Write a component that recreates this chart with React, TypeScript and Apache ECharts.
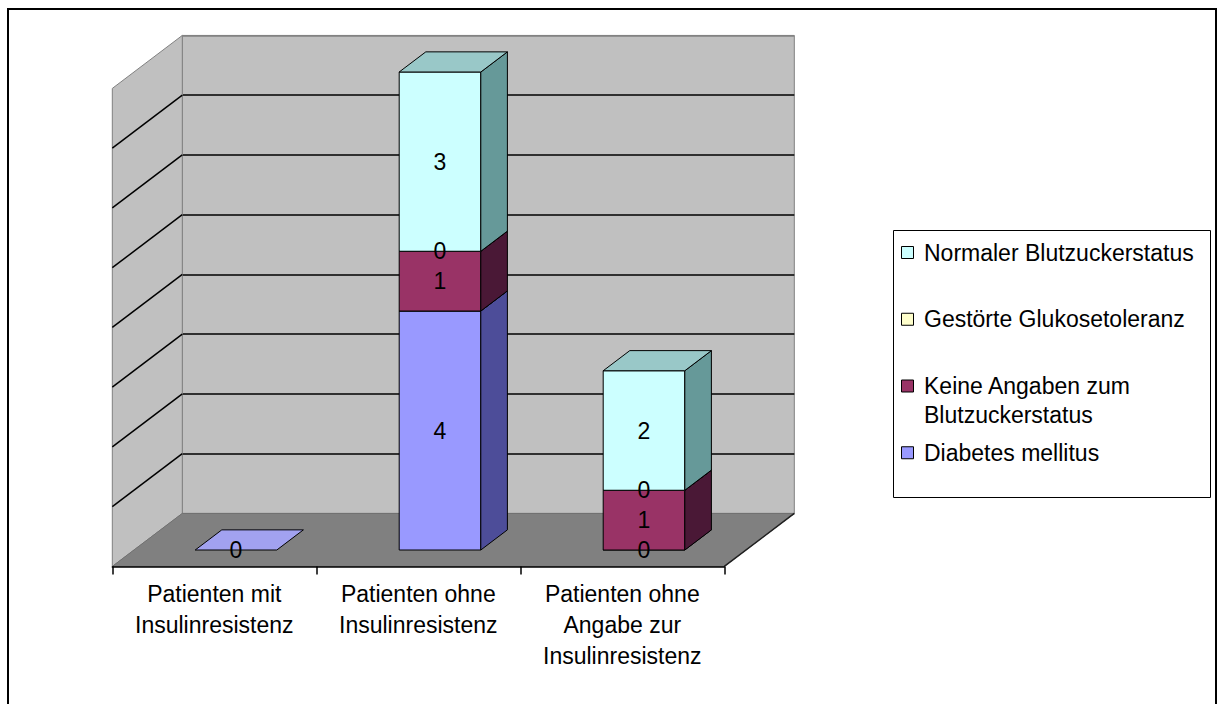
import { useEffect, useRef } from "react";
import * as echarts from "echarts";

// Categories along the floor, bottom-to-top stack order of the series
const categories = [
  "Patienten mit\nInsulinresistenz",
  "Patienten ohne\nInsulinresistenz",
  "Patienten ohne\nAngabe zur\nInsulinresistenz",
];
const seriesNames = [
  "Diabetes mellitus",
  "Keine Angaben zum Blutzuckerstatus",
  "Gestörte Glukosetoleranz",
  "Normaler Blutzuckerstatus",
];
const diabetesMellitus = [0, 4, 0];
const keineAngaben = [0, 1, 1];
const gestoerteGlukosetoleranz = [0, 0, 0];
const normalerBlutzucker = [0, 3, 2];
const stackValues = [diabetesMellitus, keineAngaben, gestoerteGlukosetoleranz, normalerBlutzucker];

const yMax = 8;
const yStep = 1;

// Face colours per series: front, right side, top
const frontColors = ["#9999FF", "#993366", "#FFFFCC", "#CCFFFF"];
const sideColors = ["#4D4D99", "#4A1836", "#999966", "#669999"];
const topColors = ["#A2A2F0", "#7A2952", "#CCCC99", "#99C8C8"];

const FONT = '"Liberation Sans", Arial, sans-serif';
const FONT_SIZE = 23;

// Oblique projection: plane of the bar fronts, and the depth vector front -> back
const PLANE = { left: 134, top: 72, width: 612, height: 478 };
const DEPTH_X = 70;
const DEPTH_Y = -53;
const BAR_FRONT = 0.31; // depth fraction where the bar fronts sit
const BAR_BACK = 0.69;
const BAR_RATIO = 0.4;

const LEGEND_BOX = { x: 893, y: 230, width: 317, height: 267 };

function buildOption() {
  // cumulative bases of the stack
  const bases = stackValues.map((_, i) =>
    categories.map((__, c) => {
      let s = 0;
      for (let j = 0; j < i; j++) s += stackValues[j][c];
      return s;
    })
  );
  // a zero segment repeats the label of a lower zero segment at the same height: draw it once
  const showLabel = stackValues.map((vals, i) =>
    vals.map((v, c) => {
      if (v !== 0) return 1;
      for (let j = 0; j < i; j++) {
        if (stackValues[j][c] === 0 && bases[j][c] === bases[i][c]) return 0;
      }
      return 1;
    })
  );

  const fdx = -BAR_FRONT * DEPTH_X;
  const fdy = -BAR_FRONT * DEPTH_Y;
  const bdx = (1 - BAR_FRONT) * DEPTH_X;
  const bdy = (1 - BAR_FRONT) * DEPTH_Y;

  const walls = {
    type: "custom",
    name: "walls",
    xAxisIndex: 0,
    yAxisIndex: 0,
    z: 1,
    silent: true,
    clip: false,
    data: [[0, 0]],
    renderItem: (_params: any, api: any) => {
      const bw = api.size([1, 0])[0];
      const [x0, yBase] = api.coord([0, 0]);
      const xl = x0 - bw / 2;
      const xr = api.coord([categories.length - 1, 0])[0] + bw / 2;
      const yTop = api.coord([0, yMax])[1];
      const children: any[] = [];
      children.push({
        type: "polygon",
        shape: {
          points: [
            [xl + fdx, yBase + fdy],
            [xl + fdx, yTop + fdy],
            [xl + bdx, yTop + bdy],
            [xl + bdx, yBase + bdy],
          ],
        },
        style: { fill: "#C0C0C0", stroke: "#808080", lineWidth: 1 },
      });
      children.push({
        type: "polygon",
        shape: {
          points: [
            [xl + fdx, yBase + fdy],
            [xr + fdx, yBase + fdy],
            [xr + bdx, yBase + bdy],
            [xl + bdx, yBase + bdy],
          ],
        },
        style: { fill: "#808080", stroke: "#707070", lineWidth: 1 },
      });
      children.push({
        type: "line",
        shape: { x1: xr + fdx, y1: yBase + fdy, x2: xr + bdx, y2: yBase + bdy },
        style: { stroke: "#202020", lineWidth: 1.5 },
      });
      for (let v = yStep; v < yMax; v += yStep) {
        const y = api.coord([0, v])[1];
        children.push({
          type: "line",
          shape: { x1: xl + fdx, y1: y + fdy, x2: xl + bdx, y2: y + bdy },
          style: { stroke: "#000", lineWidth: 1.5 },
        });
      }
      return { type: "group", children };
    },
  };

  const barDx = (BAR_BACK - BAR_FRONT) * DEPTH_X;
  const barDy = (BAR_BACK - BAR_FRONT) * DEPTH_Y;

  const bars = stackValues.map((vals, i) => ({
    type: "custom",
    name: seriesNames[i],
    xAxisIndex: 0,
    yAxisIndex: 0,
    z: 4,
    clip: false,
    data: vals.map((v, c) => [c, v, bases[i][c], showLabel[i][c]]),
    renderItem: (_params: any, api: any) => {
      const c = api.value(0);
      const v = api.value(1);
      const b = api.value(2);
      const [cx, y0] = api.coord([c, b]);
      const y1 = api.coord([c, b + v])[1];
      const w = api.size([1, 0])[0] * BAR_RATIO;
      const xl = cx - w / 2;
      const xr = cx + w / 2;
      const children: any[] = [];
      if (v > 0) {
        children.push({
          type: "rect",
          shape: { x: xl, y: y1, width: w, height: y0 - y1 },
          style: { fill: frontColors[i], stroke: "#000", lineWidth: 1 },
        });
        children.push({
          type: "polygon",
          shape: {
            points: [
              [xr, y0],
              [xr + barDx, y0 + barDy],
              [xr + barDx, y1 + barDy],
              [xr, y1],
            ],
          },
          style: { fill: sideColors[i], stroke: "#000", lineWidth: 1 },
        });
      }
      if (v > 0 || i === 0) {
        children.push({
          type: "polygon",
          shape: {
            points: [
              [xl, y1],
              [xr, y1],
              [xr + barDx, y1 + barDy],
              [xl + barDx, y1 + barDy],
            ],
          },
          style: { fill: topColors[i], stroke: "#000", lineWidth: 1 },
        });
      }
      if (api.value(3)) {
        children.push({
          type: "text",
          x: cx,
          y: (y0 + y1) / 2,
          z2: 10,
          style: {
            text: String(v),
            fill: "#000",
            fontSize: FONT_SIZE,
            fontFamily: FONT,
            align: "center",
            verticalAlign: "middle",
          },
        });
      }
      return { type: "group", children };
    },
  }));

  // legend drawn as a framed box with one slot per series, top series first
  const slot = LEGEND_BOX.height / seriesNames.length;
  const legendChildren: any[] = [
    {
      type: "rect",
      shape: { x: LEGEND_BOX.x + 0.5, y: LEGEND_BOX.y + 0.5, width: LEGEND_BOX.width, height: LEGEND_BOX.height },
      style: { fill: "#fff", stroke: "#000", lineWidth: 1 },
    },
  ];
  const legendOrder = seriesNames.map((_, i) => seriesNames.length - 1 - i);
  legendOrder.forEach((si, k) => {
    const cy = LEGEND_BOX.y + k * slot + 22.5;
    legendChildren.push({
      type: "rect",
      shape: { x: LEGEND_BOX.x + 8.5, y: cy - 6, width: 12, height: 12 },
      style: { fill: frontColors[si], stroke: "#000", lineWidth: 1 },
    });
    legendChildren.push({
      type: "text",
      x: LEGEND_BOX.x + 31,
      y: cy - 14.5,
      style: {
        text: seriesNames[si],
        fill: "#000",
        fontSize: FONT_SIZE,
        fontFamily: FONT,
        lineHeight: 29,
        width: 280,
        overflow: "break",
        verticalAlign: "top",
        align: "left",
      },
    });
  });

  const splitColors = [];
  for (let v = 0; v <= yMax; v += yStep) splitColors.push(v === 0 || v === yMax ? "#808080" : "#000");

  return {
    animation: false,
    backgroundColor: "#fff",
    textStyle: { fontFamily: FONT },
    grid: [
      { left: PLANE.left, top: PLANE.top, width: PLANE.width, height: PLANE.height, show: false },
      { left: PLANE.left + fdx, top: PLANE.top + fdy, width: PLANE.width, height: PLANE.height, show: false },
      {
        left: PLANE.left + bdx,
        top: PLANE.top + bdy,
        width: PLANE.width,
        height: PLANE.height,
        show: true,
        backgroundColor: "#C0C0C0",
        borderColor: "#808080",
        borderWidth: 1,
      },
    ],
    xAxis: [
      { gridIndex: 0, type: "category", data: categories, show: false },
      {
        gridIndex: 1,
        type: "category",
        data: categories,
        z: 3,
        axisLine: { lineStyle: { color: "#000", width: 1.5 } },
        axisTick: { show: true, interval: 0, length: 8, lineStyle: { color: "#000", width: 1.5 } },
        axisLabel: {
          interval: 0,
          color: "#000",
          fontSize: FONT_SIZE,
          fontFamily: FONT,
          lineHeight: 31,
          margin: 12,
        },
      },
      { gridIndex: 2, type: "category", data: categories, show: false },
    ],
    yAxis: [
      { gridIndex: 0, type: "value", min: 0, max: yMax, interval: yStep, show: false },
      { gridIndex: 1, type: "value", min: 0, max: yMax, interval: yStep, show: false },
      {
        gridIndex: 2,
        type: "value",
        min: 0,
        max: yMax,
        interval: yStep,
        axisLine: { show: false },
        axisTick: { show: false },
        axisLabel: { show: false },
        splitLine: { show: true, lineStyle: { color: splitColors, width: 1.6 } },
      },
    ],
    series: [walls, ...bars],
    graphic: [
      {
        type: "rect",
        silent: true,
        z: 100,
        shape: { x: 8, y: 9, width: 1208, height: 760 },
        style: { fill: "none", stroke: "#000", lineWidth: 2 },
      },
      { type: "group", children: legendChildren },
    ],
  };
}

export default function App() {
  const ref = useRef<HTMLDivElement>(null);
  useEffect(() => {
    const chart = echarts.init(ref.current!, null, { renderer: "svg" });
    chart.setOption(buildOption() as any);
    return () => chart.dispose();
  }, []);
  return (
    <div
      ref={ref}
      style={{ position: "fixed", left: 0, top: 0, width: 1217, height: 704, background: "#fff" }}
    />
  );
}
